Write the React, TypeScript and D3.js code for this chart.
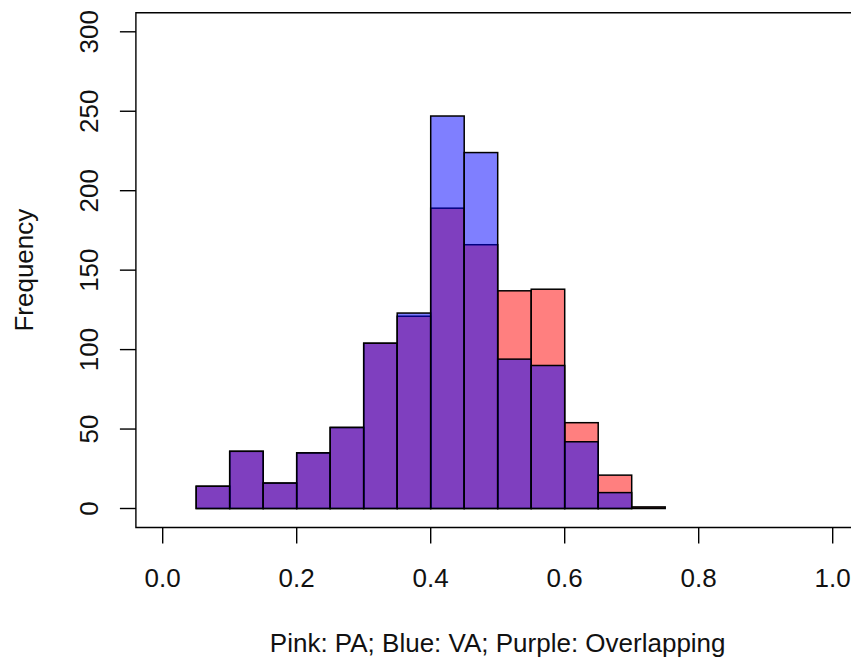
import React, { useEffect, useRef } from 'react';
import * as d3 from 'd3';

// bin edges (left side of each bin), width 0.05
const binStarts = [0.05, 0.1, 0.15, 0.2, 0.25, 0.3, 0.35, 0.4, 0.45, 0.5, 0.55, 0.6, 0.65, 0.7];
const binWidth = 0.05;
const paCounts = [14, 36, 16, 35, 51, 104, 121, 189, 166, 137, 138, 54, 21, 1];
const vaCounts = [14, 36, 16, 35, 51, 104, 123, 247, 224, 94, 90, 42, 10, 0];
const xTicks = [0, 0.2, 0.4, 0.6, 0.8, 1.0];
const yTicks = [0, 50, 100, 150, 200, 250, 300];

const W = 851;
const H = 660;
const FONT = "'Liberation Sans', Arial, sans-serif";

const App = () => {
  const ref = useRef<SVGSVGElement | null>(null);

  useEffect(() => {
    const svg = d3.select(ref.current);
    svg.selectAll('*').remove();

    const x = d3.scaleLinear().domain([0, 1]).range([162.7, 832.7]);
    const y = d3.scaleLinear().domain([0, 300]).range([508.5, 31.8]);

    const left = x(-0.04);
    const right = x(1.04);
    const top = y(312);
    const bottom = y(-12);

    const drawHist = (counts: number[], fill: string) => {
      svg.append('g')
        .selectAll('rect')
        .data(counts)
        .enter()
        .append('rect')
        .attr('x', (d, i) => x(binStarts[i]))
        .attr('width', (d, i) => x(binStarts[i] + binWidth) - x(binStarts[i]))
        .attr('y', (d) => y(d))
        .attr('height', (d) => y(0) - y(d))
        .attr('fill', fill)
        .attr('stroke', '#000')
        .attr('stroke-width', 1.5);
    };

    drawHist(paCounts, 'rgba(255,0,0,0.5)');
    drawHist(vaCounts, 'rgba(0,0,255,0.5)');

    // box (right side falls outside the picture)
    svg.append('path')
      .attr('d', `M${right},${top} L${left},${top} L${left},${bottom} L${right},${bottom}`)
      .attr('fill', 'none')
      .attr('stroke', '#000')
      .attr('stroke-width', 1.4);

    // x axis ticks + labels
    const xa = svg.append('g');
    xTicks.forEach((t) => {
      xa.append('line')
        .attr('x1', x(t)).attr('x2', x(t))
        .attr('y1', bottom).attr('y2', bottom + 16)
        .attr('stroke', '#000').attr('stroke-width', 1.4);
      xa.append('text')
        .attr('x', x(t)).attr('y', 587)
        .attr('text-anchor', 'middle')
        .attr('font-family', FONT).attr('font-size', 26)
        .attr('fill', '#111')
        .text(d3.format('.1f')(t));
    });

    // y axis ticks + labels
    const ya = svg.append('g');
    yTicks.forEach((t) => {
      ya.append('line')
        .attr('x1', left - 16).attr('x2', left)
        .attr('y1', y(t)).attr('y2', y(t))
        .attr('stroke', '#000').attr('stroke-width', 1.4);
      ya.append('text')
        .attr('transform', `translate(98,${y(t)}) rotate(-90)`)
        .attr('text-anchor', 'middle')
        .attr('font-family', FONT).attr('font-size', 26)
        .attr('fill', '#111')
        .text(t);
    });

    svg.append('text')
      .attr('transform', `translate(33,${(top + bottom) / 2}) rotate(-90)`)
      .attr('text-anchor', 'middle')
      .attr('font-family', FONT).attr('font-size', 26)
      .attr('fill', '#111')
      .text('Frequency');

    svg.append('text')
      .attr('x', (left + right) / 2).attr('y', 652)
      .attr('text-anchor', 'middle')
      .attr('font-family', FONT).attr('font-size', 26)
      .attr('fill', '#111')
      .text('Pink: PA; Blue: VA; Purple: Overlapping');
  }, []);

  return (
    <svg
      ref={ref}
      width={W}
      height={H}
      style={{ position: 'fixed', top: 0, left: 0, display: 'block', background: '#fff' }}
    />
  );
};

export default App;
